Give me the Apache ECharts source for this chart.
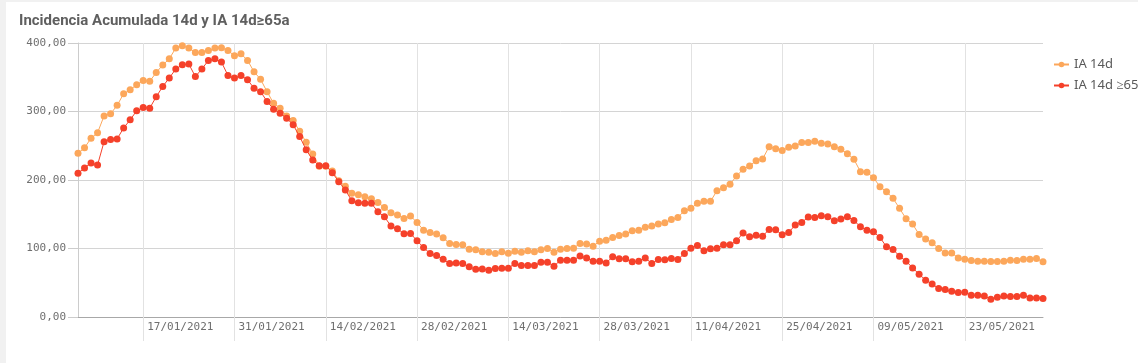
<!DOCTYPE html>
<html>
<head>
<meta charset="utf-8">
<script src="https://cdn.jsdelivr.net/npm/echarts/dist/echarts.min.js"></script>
<style>
  html, body { margin: 0; padding: 0; background: #ffffff; }
  #stripL { position: absolute; left: 0; top: 0; width: 6px; height: 363px; background: #f1f1f1; }
  #stripT { position: absolute; left: 0; top: 0; width: 1138px; height: 2px; background: #f1f1f1; }
  #chart { position: absolute; left: 0; top: 0; width: 1138px; height: 363px; }
</style>
</head>
<body>
<div id="stripL"></div>
<div id="stripT"></div>
<div id="chart"></div>
<script>
// ---- data ----
const startDate = [2021, 0, 7];   // 07/01/2021, daily points
const dayCount = 149;
const seriesNames = ['IA 14d', 'IA 14d ≥65'];
const yTicks = [0, 100, 200, 300, 400];

const ia14 = [
  239, 247, 261, 269, 293.6, 296.6, 309, 325.8, 331.7, 339,
  345.3, 344, 357, 367.8, 377, 392.7, 396, 392.7, 386, 386,
  389, 392.7, 393, 389, 381.4, 384.3, 374.6, 358, 347, 328.8,
  312, 304.9, 293.6, 287, 271, 255, 238, 220, 220, 213,
  199, 191, 180.5, 178.5, 175.6, 172.8, 167, 160, 152.2, 148.8,
  143.9, 147.3, 138, 126.8, 123.4, 121, 115.6, 107.4, 105.9, 105.3,
  99, 98, 95.1, 94.6, 92.7, 95.1, 93.2, 96.1, 94.6, 96.6,
  95.1, 98, 100, 94.6, 99, 100, 100.5, 107.4, 106.4, 103.4,
  110.7, 112.2, 116.1, 119, 121, 125.8, 126.8, 131.2, 132.7, 135.6,
  137.5, 142.5, 145.4, 155.1, 158.6, 165.9, 168.8, 168.8, 184.3, 188.7,
  193.7, 205.9, 215.6, 220.5, 228.2, 230.7, 248.7, 245.8, 242.9, 247.8,
  249.7, 254.6, 254.6, 256.6, 253.7, 252.7, 248.7, 244.9, 238.5, 230.3,
  212.2, 211.2, 203.4, 190.2, 182.9, 173.2, 158.6, 143.4, 135.6, 120.5,
  113.7, 108.3, 100, 93.6, 93.6, 86.3, 84.4, 82.5, 81.5, 81.5,
  81, 81, 81.5, 83, 82.5, 84.4, 84.4, 85.4, 80.5
];

const ia65 = [
  209.8, 217.6, 224.9, 222, 256, 259, 260, 276, 287.8, 301,
  305.8, 304.9, 321.5, 336.5, 349, 362, 368.2, 369.2, 351, 362,
  374.6, 377, 372.2, 352.6, 348.8, 352.6, 346.3, 334, 329, 314.6,
  303.4, 297.5, 290.2, 280.5, 263.4, 244, 229.2, 220.8, 220.8, 210.7,
  197.5, 185.4, 169.7, 166.8, 165.9, 165.9, 153.6, 146.3, 132.7, 128.8,
  121.4, 122, 111.2, 101.5, 92.7, 89.8, 84.4, 78.1, 79, 78.1,
  73.2, 69.8, 70.2, 68.3, 70.8, 71.3, 71.3, 78.1, 75.2, 75.2,
  75.2, 80, 80, 74.2, 83, 83, 83, 89.2, 86.3, 81.5,
  81.5, 79, 87.8, 84.9, 84.9, 80.5, 81.5, 86.3, 78.1, 84,
  83.5, 85.4, 84, 92.7, 100.5, 104.4, 96.6, 99.5, 100.5, 105.3,
  105.3, 111.2, 122.5, 117, 119.5, 118, 127.9, 127.3, 120, 123.5,
  134.2, 138.1, 145.9, 145.4, 147.8, 146.3, 140.5, 142.9, 146.3, 141,
  131.7, 126.8, 124.4, 116.1, 102.4, 98.6, 88.8, 81.5, 71.7, 62.5,
  53.7, 48.3, 41.5, 40.1, 37.6, 35.7, 36.1, 31.7, 31.7, 30.7,
  25.9, 28.8, 30.7, 29.8, 29.8, 31.7, 27.8, 27.8, 26.9
];

// category labels: dd/mm/yyyy
const dates = [];
for (let i = 0; i < dayCount; i++) {
  const d = new Date(Date.UTC(startDate[0], startDate[1], startDate[2] + i));
  const dd = String(d.getUTCDate()).padStart(2, '0');
  const mm = String(d.getUTCMonth() + 1).padStart(2, '0');
  dates.push(dd + '/' + mm + '/' + d.getUTCFullYear());
}
// ticks every 14 days, starting at 17/01/2021 (index 10)
const firstTick = 10, tickStep = 14;
const showTick = (idx) => idx >= firstTick && (idx - firstTick) % tickStep === 0;

const chart = echarts.init(document.getElementById('chart'), null, { renderer: 'canvas' });
chart.setOption({
  animation: false,
  backgroundColor: 'transparent',
  title: {
    text: 'Incidencia Acumulada 14d y IA 14d≥65a',
    left: 14, top: 9,
    textStyle: { fontFamily: 'Roboto', fontSize: 15, fontWeight: 'bold', color: '#5f5f5f' }
  },
  legend: {
    orient: 'vertical',
    left: 1048, top: 53,
    itemWidth: 15, itemHeight: 7, itemGap: 8,
    textStyle: { fontFamily: 'Noto Sans', fontSize: 13, color: '#595959' },
    data: seriesNames
  },
  grid: { left: 78, right: 95, top: 43, bottom: 46, containLabel: false },
  xAxis: {
    type: 'category',
    data: dates,
    boundaryGap: false,
    axisLine: { show: true, lineStyle: { color: '#a8a8a8', width: 1 } },
    axisTick: { show: true, length: 24, interval: showTick, lineStyle: { color: '#e2e2e2' } },
    splitLine: { show: true, interval: showTick, lineStyle: { color: '#e2e2e2' } },
    axisLabel: {
      interval: showTick, align: 'left', margin: 5, padding: [0, 0, 0, 4],
      fontFamily: 'DejaVu Sans Mono', fontSize: 11, color: '#6f6f6f'
    }
  },
  yAxis: {
    type: 'value',
    min: yTicks[0], max: yTicks[yTicks.length - 1], interval: 100,
    axisLine: { show: true, lineStyle: { color: '#cccccc' } },
    axisTick: { show: true, length: 10, lineStyle: { color: '#cccccc' } },
    splitLine: { show: true, lineStyle: { color: '#d4d4d4' } },
    axisLabel: {
      margin: 12, fontFamily: 'DejaVu Sans Mono', fontSize: 11, color: '#6f6f6f',
      formatter: (v) => v.toFixed(2).replace('.', ',')
    }
  },
  series: [
    {
      name: seriesNames[0], type: 'line', data: ia14,
      symbol: 'circle', symbolSize: 7, showSymbol: true, showAllSymbol: true,
      lineStyle: { width: 1, color: '#fca75b' },
      itemStyle: { color: '#fca75b' }, z: 2
    },
    {
      name: seriesNames[1], type: 'line', data: ia65,
      symbol: 'circle', symbolSize: 7, showSymbol: true, showAllSymbol: true,
      lineStyle: { width: 1, color: '#f5412a' },
      itemStyle: { color: '#f5412a' }, z: 3
    }
  ]
});
</script>
</body>
</html>
